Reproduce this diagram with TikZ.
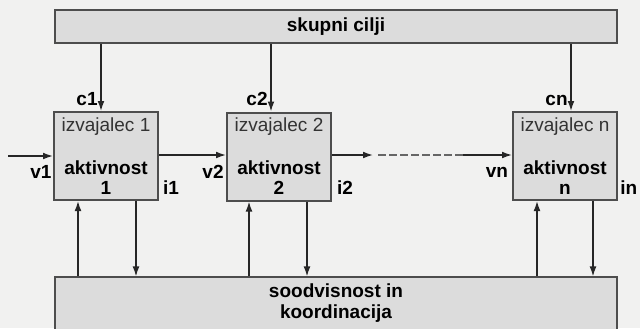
\documentclass[tikz,border=0pt]{standalone}
\usepackage{fontspec}
\setmainfont{Liberation Sans}
\usetikzlibrary{arrows.meta}
\definecolor{paper}{HTML}{F1F1F0}
\definecolor{boxfill}{HTML}{DCDCDC}
\definecolor{boxline}{HTML}{4D4D4D}
\tikzset{
  flowarr/.style = {-{Latex[length=5pt,width=3.4pt]},line width=0.7pt,black!85},
  flowline/.style = {line width=0.7pt,black!85},
  barbox/.style  = {draw=boxline,line width=1pt,fill=boxfill,minimum width=281pt,
                    align=center,font=\bfseries\fontsize{9.5}{10.5}\selectfont},
  actbox/.style  = {draw=boxline,line width=1pt,fill=boxfill,minimum width=52pt,
                    minimum height=44pt,inner sep=0pt,align=center,
                    font=\fontsize{9.5}{10}\selectfont},
  lbl/.style     = {font=\bfseries\fontsize{9.5}{10}\selectfont,inner sep=0pt}
}

\begin{document}
\begin{tikzpicture}[x=0.5pt,y=-0.5pt]
  \fill[paper] (0,0) rectangle (640,328);
  \useasboundingbox (0,0) rectangle (640,328);
  % common goals on top, coordination at the bottom
  \node[barbox,minimum height=16.5pt] (cilji) at (336,26.5) {skupni cilji};
  \node[barbox,minimum height=23.5pt] (soodv) at (336,303.5) {soodvisnost in\\koordinacija};
  % the performers
  \node[actbox] (izv1) at (106,156) {{\color{black!80}izvajalec 1}\\[11.5pt]\textbf{aktivnost}\\\textbf{1}};
  \node[actbox] (izv2) at (279,156.5) {{\color{black!80}izvajalec 2}\\[11.5pt]\textbf{aktivnost}\\\textbf{2}};
  \node[actbox] (izvn) at (565,156) {{\color{black!80}izvajalec n}\\[11.5pt]\textbf{aktivnost}\\\textbf{n}};
  % goals down to each performer
  \draw[flowarr] ([xshift=-2.5pt]izv1.north |- cilji.south) -- ([xshift=-2.5pt]izv1.north);
  \draw[flowarr] ([xshift=-4pt]izv2.north |- cilji.south) -- ([xshift=-4pt]izv2.north);
  \draw[flowarr] ([xshift=3pt]izvn.north |- cilji.south) -- ([xshift=3pt]izvn.north);
  \node[lbl,anchor=south east] (c1) at (98,106) {c1};
  \node[lbl,anchor=south east] (c2) at (268,106) {c2};
  \node[lbl,anchor=south east] (cn) at (568,106) {cn};
  % chain of activities
  \coordinate (vhod) at (8,156);
  \draw[flowarr] (vhod) -- (izv1.west);
  \draw[flowarr] (izv1.east |- 0,155) -- (izv2.west |- 0,155);
  \draw[flowarr] (izv2.east |- 0,155) -- ++(20.5pt,0) coordinate (d1);
  \draw[flowline,dashed,dash pattern=on 4pt off 1.5pt,black!60] ([xshift=2.5pt]d1) -- ++(42.5pt,0) coordinate (d2);
  \draw[flowarr] (d2) -- (izvn.west |- 0,155);
  \node[lbl] (v1) at (41,172) {v1};
  \node[lbl] (i1) at (171,188) {i1};
  \node[lbl] (v2) at (213,172) {v2};
  \node[lbl] (i2) at (345,188) {i2};
  \node[lbl] (vn) at (497,172) {vn};
  \node[lbl,anchor=west] (in) at (620,188) {in};
  % feedback with the coordination bar
  \draw[flowarr] ([xshift=-14pt]izv1.south |- soodv.north) -- ([xshift=-14pt]izv1.south);
  \draw[flowarr] ([xshift=15pt]izv1.south) -- ([xshift=15pt]izv1.south |- soodv.north);
  \draw[flowarr] ([xshift=-15pt]izv2.south |- soodv.north) -- ([xshift=-15pt]izv2.south);
  \draw[flowarr] ([xshift=14pt]izv2.south) -- ([xshift=14pt]izv2.south |- soodv.north);
  \draw[flowarr] ([xshift=-14pt]izvn.south |- soodv.north) -- ([xshift=-14pt]izvn.south);
  \draw[flowarr] ([xshift=14pt]izvn.south) -- ([xshift=14pt]izvn.south |- soodv.north);
\end{tikzpicture}
\end{document}
